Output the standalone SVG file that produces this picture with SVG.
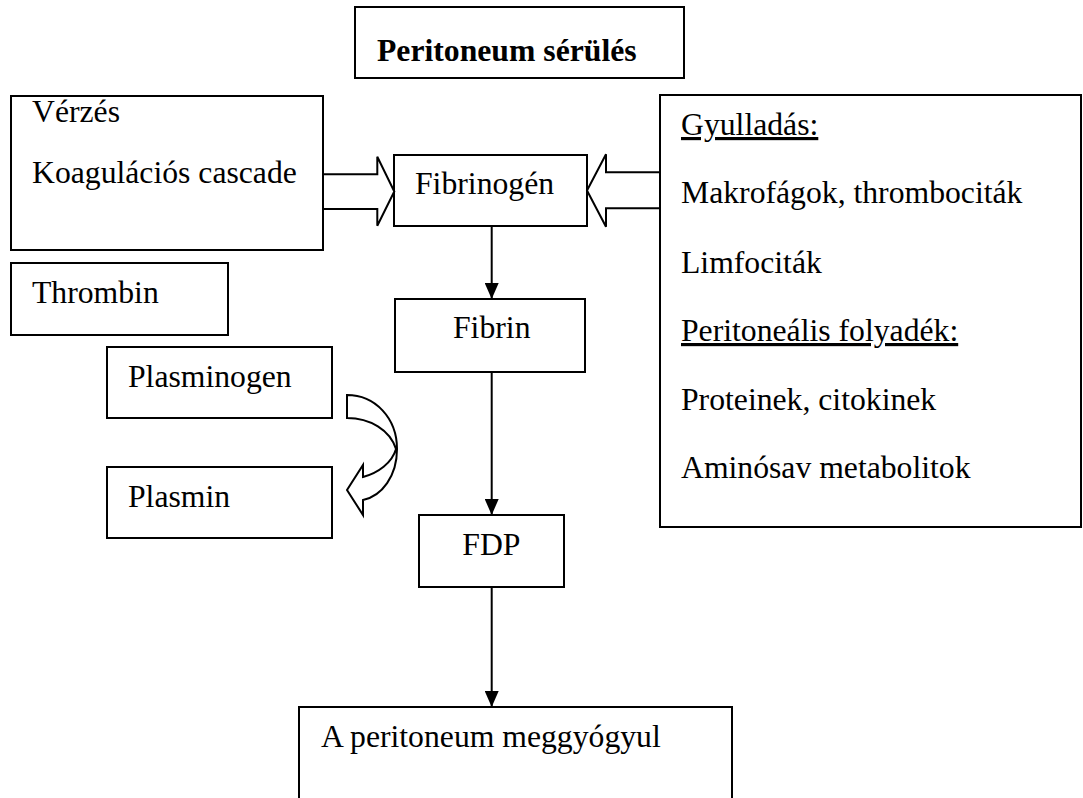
<svg xmlns="http://www.w3.org/2000/svg" width="1083" height="798" viewBox="0 0 1083 798">
<style>
.box{fill:#fff;stroke:#000;stroke-width:2}
.blk{fill:#fff;stroke:#000;stroke-width:2;stroke-linejoin:miter}
.t{font-family:"Liberation Serif","Times New Roman","DejaVu Serif",serif;font-size:31.7px;fill:#000}
.b{font-weight:bold}
.u{text-decoration:underline}
.ln{stroke:#000;stroke-width:2;fill:none}
</style>
<defs>
<marker id="ah" markerWidth="16" markerHeight="14" refX="16" refY="7" orient="auto" markerUnits="userSpaceOnUse" viewBox="0 0 16 14">
<path d="M0,0 L16,7 L0,14 Z" fill="#000"/>
</marker>
</defs>
<rect width="1083" height="798" fill="#fff"/>
<g id="title"><rect class="box" x="355" y="7" width="329" height="71"/><text class="t b" x="377" y="60.5" font-family="Liberation Serif, serif">Peritoneum sérülés</text></g>
<g id="verzes"><rect class="box" x="11" y="96" width="312" height="154"/><text class="t" x="32" y="122">Vérzés</text><text class="t" x="32" y="182.7">Koagulációs cascade</text></g>
<g id="gyulladas"><rect class="box" x="660" y="95" width="421" height="432"/>
<text class="t u" x="681" y="135">Gyulladás:</text>
<text class="t" x="681" y="203">Makrofágok, thrombociták</text>
<text class="t" x="681" y="273">Limfociták</text>
<text class="t u" x="681" y="341">Peritoneális folyadék:</text>
<text class="t" x="681" y="410">Proteinek, citokinek</text>
<text class="t" x="681" y="478">Aminósav metabolitok</text></g>
<g id="fibrinogen"><rect class="box" x="394" y="155" width="193" height="71"/><text class="t" x="415" y="194">Fibrinogén</text></g>
<g id="thrombin"><rect class="box" x="11" y="263" width="217" height="72"/><text class="t" x="32" y="302.7">Thrombin</text></g>
<g id="fibrin"><rect class="box" x="395" y="299" width="190" height="73"/><text class="t" x="453" y="338.3">Fibrin</text></g>
<g id="plasminogen"><rect class="box" x="107" y="347" width="225" height="71"/><text class="t" x="128" y="386.7">Plasminogen</text></g>
<g id="plasmin"><rect class="box" x="107" y="467" width="225" height="71"/><text class="t" x="128" y="507">Plasmin</text></g>
<g id="fdp"><rect class="box" x="419" y="515" width="145" height="72"/><text class="t" x="462.3" y="555">FDP</text></g>
<g id="heal"><rect class="box" x="299" y="707" width="433" height="120"/><text class="t" x="321" y="747">A peritoneum meggyógyul</text></g>
<g id="connectors">
<polygon class="blk" points="323,174.3 377.3,174.3 377.3,156.7 394.3,191.5 377.3,225.7 377.3,209 323,209"/>
<polygon class="blk" points="660,172.3 606,172.3 606,154.3 587,190.5 606,226.7 606,208.3 660,208.3"/>
<path class="blk" d="M347,395 C375,395 397,418 397,449 C397,476 382,496 363,500 L363,515 L347,490 L363,465 L363,477 C378,473 392,463 396,449 C390,430 370,418 347,418 Z"/>
<line class="ln" x1="491.7" y1="226" x2="491.7" y2="299" marker-end="url(#ah)"/>
<line class="ln" x1="491.7" y1="372" x2="491.7" y2="515" marker-end="url(#ah)"/>
<line class="ln" x1="491.7" y1="587" x2="491.7" y2="707" marker-end="url(#ah)"/>
</g>
</svg>
